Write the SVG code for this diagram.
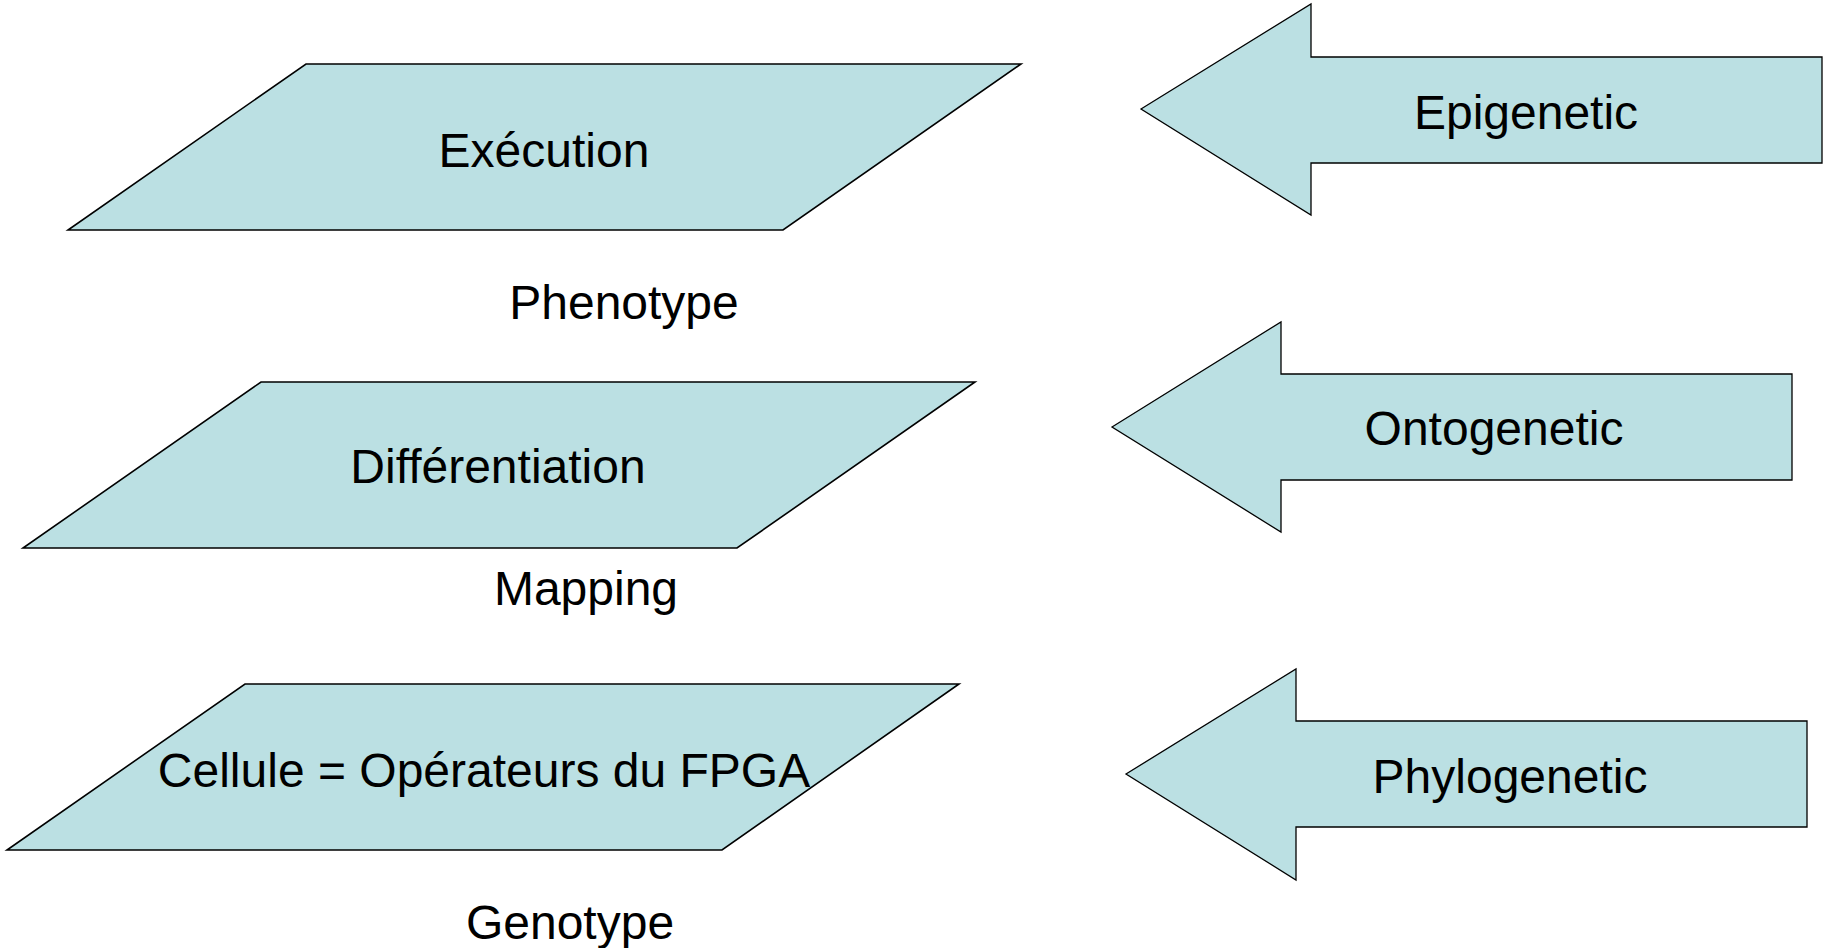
<svg xmlns="http://www.w3.org/2000/svg" width="1834" height="948" viewBox="0 0 1834 948">
<style>
.shape{fill:#BBE0E3;stroke:#000;stroke-width:1.6;stroke-linejoin:miter}
.arrow{fill:#BBE0E3;stroke:#000;stroke-width:1.3;stroke-linejoin:miter}
text{font-family:"Liberation Sans",Arial,sans-serif;font-size:48px;fill:#000;text-anchor:middle}
</style>
<rect width="1834" height="948" fill="#fff"/>
<g id="execution">
<polygon class="shape" points="306,64 1021,64 783,230 68,230"/>
<text x="544" y="167">Exécution</text>
</g>
<g id="phenotype"><text x="624" y="319">Phenotype</text></g>
<g id="differentiation">
<polygon class="shape" points="261,382 975,382 737,548 23,548"/>
<text x="498" y="483">Différentiation</text>
</g>
<g id="mapping"><text x="586" y="605">Mapping</text></g>
<g id="cellule">
<polygon class="shape" points="245,684 959,684 722,850 7,850"/>
<text x="484" y="787">Cellule = Opérateurs du FPGA</text>
</g>
<g id="genotype"><text x="570" y="939">Genotype</text></g>
<g id="epigenetic">
<polygon class="arrow" points="1141,109 1311,4 1311,57 1822,57 1822,163 1311,163 1311,215"/>
<text x="1526" y="129">Epigenetic</text>
</g>
<g id="ontogenetic">
<polygon class="arrow" points="1112,427 1281,322 1281,374 1792,374 1792,480 1281,480 1281,532"/>
<text x="1494" y="445">Ontogenetic</text>
</g>
<g id="phylogenetic">
<polygon class="arrow" points="1126,774 1296,669 1296,721 1807,721 1807,827 1296,827 1296,880"/>
<text x="1510" y="793">Phylogenetic</text>
</g>
<g id="connectors"/>
</svg>
